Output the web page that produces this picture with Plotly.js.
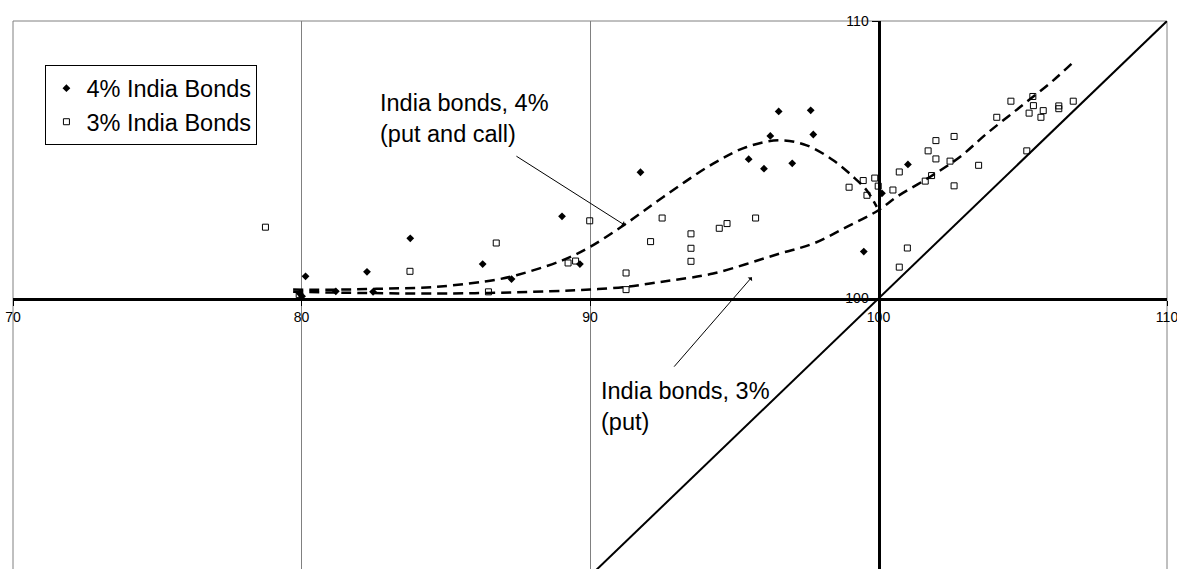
<!DOCTYPE html>
<html>
<head>
<meta charset="utf-8">
<script src="https://cdn.plot.ly/plotly-3.0.1.min.js"></script>
<style>html,body{margin:0;padding:0;overflow:hidden;background:#fff;}</style>
</head>
<body>
<div id="chart" style="width:1177px;height:600px;"></div>
<script>
// ---- data ----
const xRange = [70, 110];
const yRange = [90, 110];
const crossX = 100;   // y-axis crosses x axis here
const crossY = 100;   // x-axis crosses y axis here

const seriesNames = ['4% India Bonds', '3% India Bonds'];

const bonds4X = [79.94, 80.02, 80.14, 81.19, 82.27, 82.48, 83.77, 86.28, 87.28, 89.03, 89.65, 91.75, 95.50, 96.03, 96.25, 96.54, 97.01, 97.65, 97.74, 99.49, 100.12, 101.02];
const bonds4Y = [100.18, 100.08, 100.80, 100.26, 100.96, 100.24, 102.17, 101.24, 100.70, 102.96, 101.24, 104.55, 105.02, 104.68, 105.86, 106.74, 104.87, 106.78, 105.91, 101.69, 103.79, 104.83];

const bonds3X = [78.75, 79.92, 83.76, 86.48, 86.75, 89.24, 89.50, 89.99, 91.25, 91.25, 92.10, 92.50, 93.50, 93.50, 93.50, 94.48, 94.75, 95.74, 98.98, 99.47, 99.60, 99.87, 99.99, 100.50, 100.72, 100.72, 101.00, 101.62, 101.72, 101.84, 101.99, 101.99, 102.48, 102.62, 102.62, 103.47, 104.10, 104.59, 105.14, 105.22, 105.35, 105.37, 105.63, 105.71, 106.25, 106.25, 106.75];
const bonds3Y = [102.57, 100.14, 100.98, 100.24, 102.00, 101.28, 101.35, 102.80, 100.92, 100.32, 102.05, 102.90, 102.33, 101.81, 101.34, 102.53, 102.70, 102.90, 104.01, 104.25, 103.72, 104.34, 104.05, 103.91, 104.56, 101.13, 101.82, 104.23, 105.32, 104.43, 105.03, 105.69, 104.95, 105.84, 104.06, 104.80, 106.53, 107.11, 105.32, 106.68, 107.28, 106.95, 106.53, 106.77, 106.94, 106.84, 107.11];

// fitted curve "India bonds, 4% (put and call)"
const fit4X = [79.71, 81.19, 82.60, 84.68, 86.76, 87.45, 89.06, 90.00, 91.21, 92.54, 94.27, 95.43, 96.58, 97.51, 98.43, 99.13, 99.59, 99.94];
const fit4Y = [100.32, 100.32, 100.35, 100.42, 100.68, 100.84, 101.38, 101.86, 102.67, 103.66, 104.86, 105.46, 105.70, 105.52, 104.98, 104.38, 103.90, 103.30];

// fitted curve "India bonds, 3% (put)"
const fit3X = [79.71, 83.99, 86.48, 88.61, 90.00, 91.25, 92.08, 92.88, 94.27, 96.58, 97.74, 98.90, 100.00, 100.63, 101.78, 102.82, 103.75, 104.91, 106.06, 106.75];
const fit3Y = [100.24, 100.18, 100.20, 100.26, 100.32, 100.42, 100.54, 100.66, 100.90, 101.62, 101.98, 102.58, 103.18, 103.66, 104.38, 105.10, 105.94, 106.90, 107.86, 108.52];

// 45-degree reference line
const diagX = [90, 110];
const diagY = [90, 110];

const tickVals = [70, 80, 90, 100, 110];
const yTickVals = [90, 100, 110];

const noteTexts = ['India bonds, 4%<br>(put and call)', 'India bonds, 3%<br>(put)'];
const noteTextPos = [[82.65, 107.6], [90.30, 97.2]];
const arrowTips = [[91.21, 102.64], [95.61, 100.77]];
const arrowTails = [[-110, -70], [-79, 91]];

// ---- chart ----
const font = 'Arial, "Liberation Sans", sans-serif';

const traces = [
  {x: diagX, y: diagY, mode: 'lines', line: {color: '#000', width: 2}, showlegend: false, hoverinfo: 'skip'},
  {x: fit4X, y: fit4Y, mode: 'lines', line: {color: '#000', width: 2.5, dash: '10px,6px', shape: 'spline', smoothing: 1}, showlegend: false},
  {x: fit3X, y: fit3Y, mode: 'lines', line: {color: '#000', width: 2.5, dash: '10px,6px', shape: 'spline', smoothing: 1}, showlegend: false},
  {x: bonds4X, y: bonds4Y, name: seriesNames[0], mode: 'markers', marker: {symbol: 'diamond', size: 6, color: '#000'}},
  {x: bonds3X, y: bonds3Y, name: seriesNames[1], mode: 'markers', marker: {symbol: 'square-open', size: 6, color: '#000', line: {width: 1, color: '#000'}}}
];

const annotations = [];
for (let i = 0; i < noteTexts.length; i++) {
  annotations.push({x: noteTextPos[i][0], y: noteTextPos[i][1], xref: 'x', yref: 'y', text: noteTexts[i], showarrow: false, xanchor: 'left', yanchor: 'top', align: 'left', font: {family: font, size: 23.5, color: '#000'}});
  annotations.push({x: arrowTips[i][0], y: arrowTips[i][1], xref: 'x', yref: 'y', text: '', showarrow: true, ax: arrowTails[i][0], ay: arrowTails[i][1], arrowhead: 1, arrowsize: 1, arrowwidth: 1, arrowcolor: '#000', standoff: 0, startstandoff: 0});
}

const layout = {
  width: 1177, height: 600,
  margin: {l: 13, r: 10, t: 21, b: 24, pad: 0},
  paper_bgcolor: '#fff', plot_bgcolor: '#fff',
  font: {family: font, color: '#000'},
  showlegend: true,
  legend: {x: 0.0281, y: 0.92, xanchor: 'left', yanchor: 'top', bgcolor: '#fff', bordercolor: '#000', borderwidth: 1, font: {family: font, size: 23.5, color: '#000'}, traceorder: 'normal', tracegroupgap: 0},
  xaxis: {
    range: xRange, anchor: 'free', position: (crossY - yRange[0]) / (yRange[1] - yRange[0]),
    tickvals: tickVals, ticks: 'outside', ticklen: 5, tickwidth: 1, tickcolor: '#000',
    tickfont: {family: font, size: 14, color: '#000'}, ticklabeloverflow: 'allow',
    showline: true, linecolor: '#000', linewidth: 3,
    showgrid: true, gridcolor: '#808080', gridwidth: 1, zeroline: false, automargin: false, fixedrange: true
  },
  yaxis: {
    range: yRange, anchor: 'free', position: (crossX - xRange[0]) / (xRange[1] - xRange[0]),
    tickvals: yTickVals, ticks: 'outside', ticklen: 6, tickwidth: 1, tickcolor: '#000',
    tickfont: {family: font, size: 14, color: '#000'}, ticklabeloverflow: 'allow',
    showline: true, linecolor: '#000', linewidth: 3,
    showgrid: false, zeroline: false, automargin: false, fixedrange: true
  },
  shapes: [
    {type: 'rect', xref: 'paper', yref: 'paper', x0: 0, x1: 1, y0: 0, y1: 1, line: {color: '#808080', width: 1}, layer: 'below'}
  ],
  annotations: annotations
};

Plotly.newPlot('chart', traces, layout, {displayModeBar: false, staticPlot: true});
</script>
</body>
</html>
